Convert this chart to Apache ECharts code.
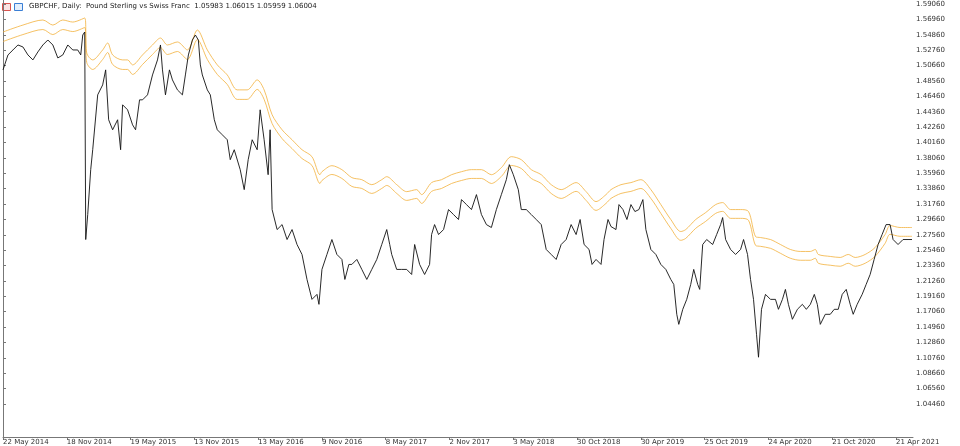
<!DOCTYPE html>
<html><head><meta charset="utf-8">
<script src="https://cdn.jsdelivr.net/npm/echarts@6/dist/echarts.min.js"></script>
<style>html,body{margin:0;padding:0;background:#fff}#c{width:960px;height:446px}</style>
</head><body><div id="c"></div>
<script>
const dateLabels=['22 May 2014','18 Nov 2014','19 May 2015','13 Nov 2015','13 May 2016','9 Nov 2016','8 May 2017','2 Nov 2017','3 May 2018','30 Oct 2018','30 Apr 2019','25 Oct 2019','24 Apr 2020','21 Oct 2020','21 Apr 2021'];
const priceTicks=[1.59060,1.56960,1.54860,1.52760,1.50660,1.48560,1.46460,1.44360,1.42260,1.40160,1.38060,1.35960,1.33860,1.31760,1.29660,1.27560,1.25460,1.23360,1.21260,1.19160,1.17060,1.14960,1.12860,1.10760,1.08660,1.06560,1.04460];
const closeSeries=[[0,1.5007],[10,1.5211],[20,1.5279],[30,1.5347],[40,1.5320],[50,1.5211],[60,1.5143],[70,1.5252],[80,1.5347],[90,1.5415],[100,1.5347],[110,1.5170],[120,1.5211],[130,1.5347],[140,1.5279],[150,1.5279],[156,1.5211],[160,1.5483],[164,1.5524],[166,1.2691],[170,1.3032],[176,1.3645],[180,1.3917],[190,1.4666],[200,1.4802],[206,1.5007],[212,1.4326],[220,1.4189],[230,1.4326],[236,1.3917],[240,1.4530],[250,1.4462],[260,1.4257],[266,1.4189],[274,1.4598],[280,1.4598],[290,1.4666],[300,1.4938],[310,1.5143],[316,1.5347],[320,1.5007],[326,1.4666],[334,1.5007],[340,1.4870],[350,1.4734],[360,1.4666],[366,1.4938],[372,1.5211],[380,1.5415],[386,1.5483],[392,1.5415],[396,1.5075],[400,1.4938],[410,1.4734],[416,1.4666],[424,1.4326],[430,1.4189],[440,1.4121],[450,1.4053],[456,1.3781],[464,1.3917],[476,1.3645],[484,1.3372],[492,1.3781],[500,1.4053],[510,1.3917],[516,1.4462],[524,1.4053],[532,1.3576],[536,1.4189],[540,1.3100],[550,1.2827],[560,1.2895],[570,1.2691],[580,1.2827],[590,1.2623],[600,1.2487],[610,1.2146],[620,1.1874],[630,1.1942],[634,1.1806],[640,1.2283],[650,1.2487],[660,1.2691],[670,1.2487],[680,1.2419],[686,1.2146],[694,1.2351],[700,1.2351],[710,1.2419],[720,1.2283],[730,1.2146],[740,1.2283],[750,1.2419],[760,1.2623],[770,1.2827],[776,1.2623],[780,1.2487],[790,1.2283],[800,1.2283],[810,1.2283],[820,1.2214],[826,1.2623],[836,1.2351],[846,1.2214],[856,1.2351],[860,1.2759],[866,1.2895],[874,1.2759],[884,1.2827],[894,1.3100],[904,1.3032],[914,1.2964],[920,1.3236],[930,1.3168],[940,1.3100],[950,1.3304],[960,1.3032],[970,1.2895],[980,1.2855],[990,1.3100],[1000,1.3304],[1010,1.3508],[1016,1.3713],[1024,1.3576],[1034,1.3372],[1040,1.3100],[1050,1.3100],[1060,1.3032],[1070,1.2964],[1080,1.2895],[1090,1.2555],[1100,1.2487],[1110,1.2419],[1120,1.2623],[1130,1.2691],[1140,1.2895],[1150,1.2759],[1158,1.2964],[1166,1.2623],[1176,1.2555],[1182,1.2351],[1190,1.2419],[1200,1.2351],[1206,1.2691],[1214,1.2964],[1220,1.2868],[1230,1.2827],[1236,1.3168],[1244,1.3100],[1252,1.2964],[1260,1.3168],[1268,1.3073],[1276,1.3100],[1284,1.3236],[1290,1.2827],[1300,1.2555],[1310,1.2487],[1320,1.2351],[1330,1.2283],[1340,1.2146],[1346,1.2078],[1352,1.1670],[1356,1.1533],[1364,1.1738],[1372,1.1874],[1380,1.2078],[1386,1.2283],[1394,1.2078],[1398,1.2010],[1404,1.2623],[1412,1.2691],[1424,1.2623],[1432,1.2759],[1440,1.2895],[1444,1.2991],[1450,1.2691],[1460,1.2555],[1470,1.2487],[1480,1.2555],[1486,1.2691],[1494,1.2487],[1500,1.2146],[1506,1.1874],[1512,1.1397],[1516,1.1084],[1522,1.1738],[1530,1.1942],[1540,1.1874],[1550,1.1874],[1556,1.1738],[1564,1.1874],[1570,1.2010],[1576,1.1806],[1584,1.1602],[1594,1.1738],[1604,1.1806],[1612,1.1738],[1620,1.1806],[1628,1.1942],[1634,1.1806],[1640,1.1533],[1650,1.1670],[1660,1.1670],[1668,1.1738],[1676,1.1738],[1684,1.1942],[1692,1.2010],[1700,1.1806],[1706,1.1670],[1714,1.1806],[1724,1.1942],[1732,1.2078],[1740,1.2214],[1748,1.2419],[1756,1.2623],[1764,1.2759],[1772,1.2895],[1780,1.2895],[1786,1.2691],[1796,1.2623],[1806,1.2691],[1816,1.2691],[1824,1.2691]];
const envBars=[0,40,80,100,120,140,164,168,180,200,210,220,240,250,260,280,300,316,330,350,370,390,410,430,450,470,490,510,524,540,560,580,600,620,636,640,660,680,700,720,740,760,770,790,810,830,840,860,880,900,920,940,960,980,1000,1020,1040,1060,1080,1100,1120,1150,1170,1190,1210,1220,1240,1260,1280,1300,1320,1340,1360,1370,1390,1410,1430,1444,1460,1480,1496,1510,1520,1540,1560,1580,1600,1620,1630,1636,1660,1680,1696,1710,1730,1750,1770,1780,1800,1824];
const envUpper=[1.5524,1.5619,1.5688,1.5619,1.5688,1.5660,1.5715,1.5238,1.5143,1.5279,1.5374,1.5211,1.5143,1.5143,1.5075,1.5211,1.5347,1.5442,1.5347,1.5388,1.5279,1.5551,1.5279,1.5075,1.4938,1.4734,1.4734,1.4870,1.4734,1.4394,1.4189,1.4053,1.3917,1.3822,1.3576,1.3617,1.3699,1.3645,1.3536,1.3508,1.3440,1.3508,1.3549,1.3440,1.3345,1.3372,1.3304,1.3468,1.3508,1.3576,1.3617,1.3645,1.3645,1.3576,1.3672,1.3822,1.3781,1.3645,1.3576,1.3440,1.3372,1.3468,1.3345,1.3209,1.3304,1.3372,1.3440,1.3468,1.3508,1.3372,1.3168,1.2964,1.2800,1.2827,1.2964,1.3059,1.3168,1.3195,1.3100,1.3100,1.3073,1.2732,1.2718,1.2691,1.2623,1.2555,1.2528,1.2528,1.2555,1.2487,1.2460,1.2446,1.2487,1.2446,1.2487,1.2582,1.2759,1.2882,1.2855,1.2855];
const envLower=[1.5394,1.5489,1.5558,1.5489,1.5558,1.5530,1.5585,1.5108,1.5013,1.5149,1.5244,1.5081,1.5013,1.5013,1.4945,1.5081,1.5217,1.5312,1.5217,1.5258,1.5149,1.5421,1.5149,1.4945,1.4808,1.4604,1.4604,1.4740,1.4604,1.4274,1.4069,1.3933,1.3797,1.3702,1.3456,1.3497,1.3579,1.3525,1.3416,1.3388,1.3320,1.3388,1.3429,1.3320,1.3225,1.3252,1.3184,1.3348,1.3388,1.3456,1.3497,1.3525,1.3525,1.3456,1.3552,1.3702,1.3661,1.3525,1.3456,1.3320,1.3252,1.3348,1.3225,1.3089,1.3184,1.3252,1.3320,1.3348,1.3388,1.3252,1.3048,1.2844,1.2680,1.2707,1.2844,1.2939,1.3048,1.3075,1.2980,1.2980,1.2953,1.2612,1.2598,1.2571,1.2503,1.2435,1.2408,1.2408,1.2435,1.2367,1.2340,1.2326,1.2367,1.2326,1.2367,1.2462,1.2639,1.2762,1.2735,1.2735];
const titleText='GBPCHF, Daily:  Pound Sterling vs Swiss Franc  1.05983 1.06015 1.05959 1.06004';

const xTicks=dateLabels.map((_,i)=>i*128);
const chart=echarts.init(document.getElementById('c'),null,{renderer:'canvas'});
const envColor='#f2b13c';
chart.setOption({
  animation:false,
  backgroundColor:'#fff',
  grid:{left:0,right:47,top:0,bottom:8},
  xAxis:{type:'value',min:0,max:1826,
    axisLine:{show:true,lineStyle:{color:'#777',width:1}},
    axisTick:{show:true,customValues:xTicks,length:3,inside:false,lineStyle:{color:'#777'}},
    axisLabel:{customValues:xTicks,formatter:v=>dateLabels[Math.round(v/128)]||'',fontSize:7,color:'#333',fontFamily:'DejaVu Sans',align:'left',margin:2,showMinLabel:true,showMaxLabel:true},
    splitLine:{show:false}},
  yAxis:{type:'value',position:'right',min:0.9995,max:1.5961,
    axisLine:{show:true,lineStyle:{color:'#777',width:1}},
    axisTick:{show:true,customValues:priceTicks,length:3,lineStyle:{color:'#777'}},
    axisLabel:{customValues:priceTicks,formatter:v=>v.toFixed(5),fontSize:7,color:'#333',fontFamily:'DejaVu Sans',margin:3},
    splitLine:{show:false}},
  series:[
    {type:'line',data:envBars.map((b,i)=>[b,envUpper[i]]),symbol:'none',smooth:0.3,lineStyle:{color:envColor,width:0.8}},
    {type:'line',data:envBars.map((b,i)=>[b,envLower[i]]),symbol:'none',smooth:0.3,lineStyle:{color:envColor,width:0.8}},
    {type:'line',data:closeSeries,symbol:'none',lineStyle:{color:'#111',width:0.9}}
  ],
  graphic:[
    {type:'rect',left:2,top:3,shape:{width:8,height:7},style:{fill:'#fbe3e3',stroke:'#d9534f',lineWidth:1}},
    {type:'rect',left:14,top:3,shape:{width:8,height:7},style:{fill:'#e3eefb',stroke:'#3a7fd5',lineWidth:1}},
    {type:'text',left:29,top:3,style:{text:titleText,fontSize:7,fill:'#222',fontFamily:'DejaVu Sans'}}
  ]
});
</script></body></html>
